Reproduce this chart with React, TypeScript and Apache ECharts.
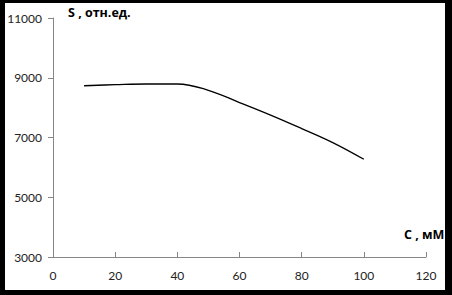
import React, { useEffect, useRef } from "react";
import * as echarts from "echarts";

const concentration = [10, 20, 30, 40, 50, 60, 70, 80, 90, 100];
const signal = [8733, 8767, 8790, 8790, 8580, 8170, 7750, 7300, 6830, 6270];
const yTicks = { min: 3000, max: 11000, interval: 2000 };
const xTicks = { min: 0, max: 120, interval: 20 };
const yName = "S , отн.ед.";
const xName = "C , мМ";

export default function App() {
  const ref = useRef<HTMLDivElement>(null);
  useEffect(() => {
    if (!ref.current) return;
    const chart = echarts.init(ref.current, undefined, { renderer: "svg" });
    const font = "Lato, 'DejaVu Sans', sans-serif";
    const nameFont = "'Open Sans', Lato, sans-serif";
    chart.setOption({
      animation: false,
      backgroundColor: "#ffffff",
      grid: { left: 53, right: 26, top: 18, bottom: 38 },
      xAxis: {
        type: "value",
        min: xTicks.min,
        max: xTicks.max,
        interval: xTicks.interval,
        axisLine: { lineStyle: { color: "#868686", width: 1 } },
        axisTick: { inside: true, length: 5, lineStyle: { color: "#868686" } },
        splitLine: { show: false },
        axisLabel: { color: "#222", fontFamily: font, fontSize: 12, margin: 12, formatter: (v: number) => String(v) },
      },
      yAxis: {
        type: "value",
        min: yTicks.min,
        max: yTicks.max,
        interval: yTicks.interval,
        axisLine: { show: true, lineStyle: { color: "#868686", width: 1 } },
        axisTick: { show: true, inside: false, length: 5, lineStyle: { color: "#868686" } },
        splitLine: { show: false },
        axisLabel: {
          color: "#222",
          fontFamily: font,
          fontSize: 12,
          margin: 11,
          padding: [0, 0, 4, 0],
          formatter: (v: number) => String(v),
        },
      },
      series: [
        {
          type: "line",
          data: concentration.map((c, i) => [c, signal[i]]),
          smooth: 0.4,
          showSymbol: false,
          lineStyle: { color: "#000", width: 1.3 },
        },
      ],
      graphic: [
        { type: "text", left: 68, top: 6, style: { text: yName, font: `bold 12.5px ${nameFont}`, fill: "#000" } },
        { type: "text", left: 404, top: 228, style: { text: xName, font: `bold 12.5px ${nameFont}`, fill: "#000" } },
        { type: "rect", shape: { x: 0, y: 0, width: 5, height: 295 }, style: { fill: "#000" } },
        { type: "rect", shape: { x: 0, y: 0, width: 452, height: 3 }, style: { fill: "#000" } },
        { type: "rect", shape: { x: 445, y: 0, width: 7, height: 295 }, style: { fill: "#000" } },
        { type: "rect", shape: { x: 0, y: 290, width: 452, height: 5 }, style: { fill: "#000" } },
      ],
    });
    return () => chart.dispose();
  }, []);
  return (
    <div
      ref={ref}
      style={{ position: "fixed", left: 0, top: 0, width: 452, height: 295 }}
    />
  );
}
